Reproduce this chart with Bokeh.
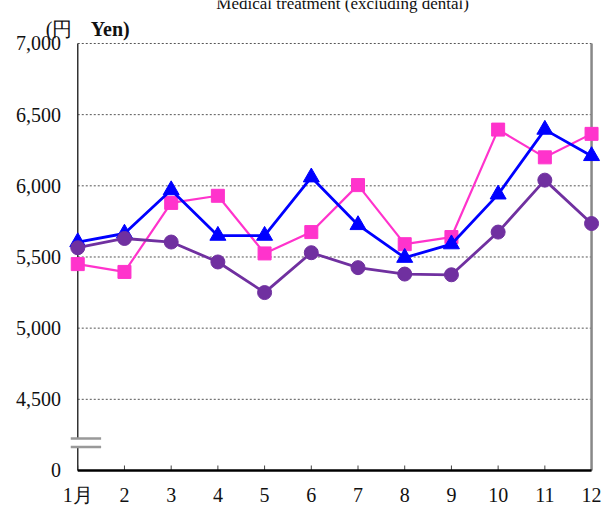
from bokeh.plotting import figure
from bokeh.models import Range1d, Label
from bokeh.core.properties import value
from bokeh.embed import file_html
from bokeh.resources import INLINE

# ---- data ----
months = [1, 2, 3, 4, 5, 6, 7, 8, 9, 10, 11, 12]
month_labels = ["1月", "2", "3", "4", "5", "6", "7", "8", "9", "10", "11", "12"]
series_pink = [5450, 5395, 5880, 5930, 5525, 5675, 6005, 5590, 5640, 6395, 6200, 6365]
series_blue = [5605, 5665, 5970, 5650, 5650, 6060, 5725, 5495, 5590, 5940, 6395, 6210]
series_purple = [5565, 5630, 5605, 5465, 5250, 5530, 5425, 5380, 5375, 5675, 6040, 5735]
y_ticks = [4000, 4500, 5000, 5500, 6000, 6500, 7000]
y_tick_labels = ["0", "4,500", "5,000", "5,500", "6,000", "6,500", "7,000"]
title_text = "Medical treatment (excluding dental)"
unit_text_a = "(円"
unit_text_b = "Yen)"

# ---- style ----
SERIF = "Liberation Serif"
PINK = "#FF33CC"
BLUE = "#0000FF"
PURPLE = "#7030A0"
X_PAD_L = 1.654
X_PAD_R = 0.32
Y_TOP_PAD = 302
Y_BOT_PAD = 253
BREAK_Y = (4165, 4225)
YLAB_OFFSET = 0.36
XLAB_Y = 3830
TICK_LEN = 35

p = figure(frame_width=606, frame_height=506, min_border_left=0, min_border_right=0,
           min_border_top=0, min_border_bottom=0,
           x_range=Range1d(months[0] - X_PAD_L, months[-1] + X_PAD_R),
           y_range=Range1d(y_ticks[0] - Y_BOT_PAD, y_ticks[-1] + Y_TOP_PAD),
           output_backend="svg", toolbar_location=None, tools="")
p.outline_line_color = None
p.background_fill_color = "white"
p.xgrid.visible = False
p.ygrid.visible = False
p.xaxis.visible = False
p.yaxis.visible = False

# y tick labels
p.text(x=[months[0] - YLAB_OFFSET] * len(y_ticks), y=y_ticks, text=y_tick_labels,
       text_font=value(SERIF), text_font_size="20px", text_align="right",
       text_baseline="middle", text_color="#111111")
# x tick labels
p.text(x=months, y=[XLAB_Y] * len(months), text=month_labels,
       text_font=value(SERIF), text_font_size="20px", text_align="center",
       text_baseline="middle", text_color="#111111")
# x ticks (inward)
p.segment(x0=months, x1=months, y0=[y_ticks[0]] * len(months),
          y1=[y_ticks[0] + TICK_LEN] * len(months), line_color="#444444", line_width=1)

# gridlines (dotted) from first to last month
grid_vals = y_ticks[1:]
p.segment(x0=[months[0]] * len(grid_vals), x1=[months[-1]] * len(grid_vals),
          y0=grid_vals, y1=grid_vals, line_color="#555555", line_width=1, line_dash="2 2")

# left axis line with break
p.segment(x0=[months[0], months[0]], x1=[months[0], months[0]],
          y0=[y_ticks[0], BREAK_Y[1]], y1=[BREAK_Y[0], y_ticks[-1]],
          line_color="#333333", line_width=1.5)
# break marks
bx0 = months[0] - 0.15
bx1 = months[0] + 0.5
p.segment(x0=[bx0, bx0], x1=[bx1, bx1], y0=list(BREAK_Y), y1=list(BREAK_Y),
          line_color="#999999", line_width=2.5)

# right border
p.segment(x0=[months[-1]], x1=[months[-1]], y0=[y_ticks[0]], y1=[y_ticks[-1]],
          line_color="#888888", line_width=2.5)
# bottom axis line
p.segment(x0=[months[0]], x1=[months[-1]], y0=[y_ticks[0]], y1=[y_ticks[0]],
          line_color="#000000", line_width=2.5)

# series
p.line(months, series_pink, line_color=PINK, line_width=2.2)
p.scatter(months, series_pink, marker="square", size=13, fill_color=PINK, line_color=PINK)
p.line(months, series_blue, line_color=BLUE, line_width=2.8)
p.scatter(months, series_blue, marker="triangle", size=16, fill_color=BLUE, line_color=BLUE)
p.line(months, series_purple, line_color=PURPLE, line_width=2.8)
p.scatter(months, series_purple, marker="circle", size=14, fill_color=PURPLE, line_color=PURPLE)

# unit label
p.add_layout(Label(x=0.315, y=7105, text=unit_text_a, text_font=SERIF,
                   text_font_size="20px", text_baseline="alphabetic", text_color="#111111"))
p.add_layout(Label(x=1.28, y=7105, text=unit_text_b, text_font=SERIF,
                   text_font_size="20px", text_font_style="bold", text_baseline="alphabetic",
                   text_color="#111111"))
# title (cropped at top in the reference)
p.add_layout(Label(x=6.67, y=7281, text=title_text, text_font=SERIF, text_font_size="17px",
                   text_align="center", text_baseline="alphabetic", text_color="#111111"))

open("out.html", "w").write(file_html(p, INLINE))
